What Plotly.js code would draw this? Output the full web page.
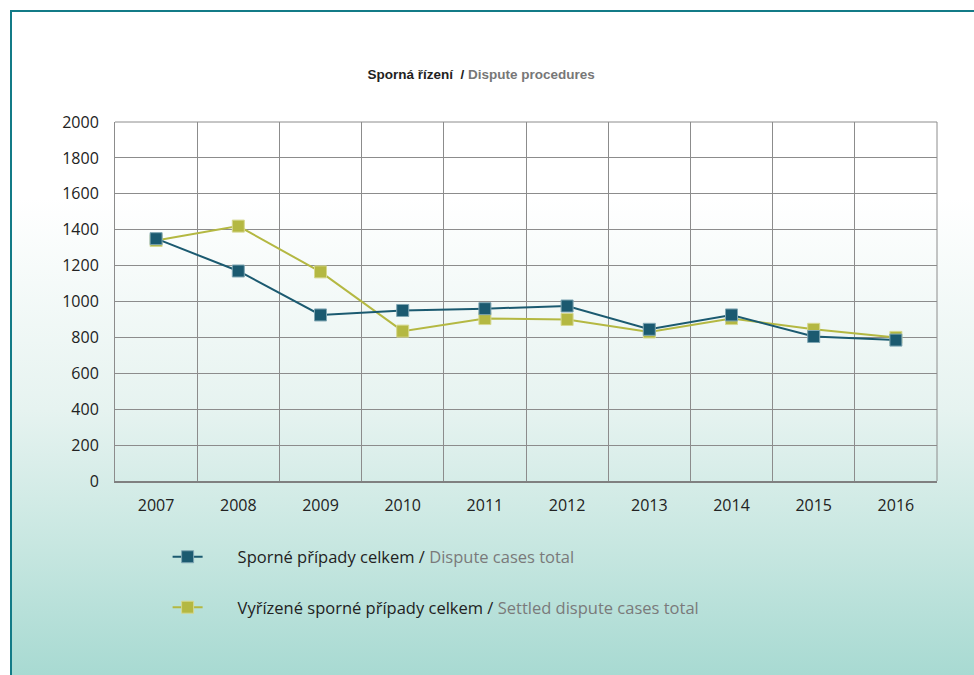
<!DOCTYPE html>
<html>
<head>
<meta charset="utf-8">
<script src="https://cdn.plot.ly/plotly-3.0.1.min.js"></script>
<style>
  html, body { margin:0; padding:0; background:#ffffff; width:974px; height:675px; overflow:hidden; }
  #frame { position:absolute; left:10px; top:10px; width:962px; height:663px;
    border-left:2px solid #137b87; border-top:2px solid #137b87;
    background: linear-gradient(to bottom, #ffffff 0%, #ffffff 28%, #e6f3f0 60%, #c8e7e1 80%, #a8dad2 100%); }
  #chart { position:absolute; left:0; top:0; width:974px; height:675px; }
</style>
</head>
<body>
<div id="frame"></div>
<div id="chart"></div>
<script>
const years = ['2007','2008','2009','2010','2011','2012','2013','2014','2015','2016'];
const disputeTotal = [1350, 1170, 925, 950, 960, 975, 845, 925, 805, 785];
const settledTotal = [1340, 1420, 1165, 835, 905, 900, 830, 905, 845, 800];
const yTicks = [0, 200, 400, 600, 800, 1000, 1200, 1400, 1600, 1800, 2000];

const font = '"Open Sans", "Noto Sans", sans-serif';
const narrow = '"Liberation Sans Narrow", "Liberation Sans", Arial, sans-serif';
const pad = '&#160;&#160;&#160;&#160;&#160;&#160;&#160;';

const traces = [
  {
    x: years, y: disputeTotal, type: 'scatter', mode: 'lines+markers',
    name: pad + 'Sporné případy celkem / <span style="color:#7a7a7a">Dispute cases total</span>',
    legendgroup: 'a', legendrank: 1,
    line: {color: '#1b5a70', width: 2},
    marker: {symbol: 'square', size: 12, color: '#1b5a70', line: {color: '#7fa6b3', width: 1}}
  },
  {
    x: years, y: settledTotal, type: 'scatter', mode: 'lines+markers',
    name: pad + 'Vyřízené sporné případy celkem / <span style="color:#7a7a7a">Settled dispute cases total</span>',
    legendgroup: 'b', legendrank: 2,
    line: {color: '#b4b842', width: 2},
    marker: {symbol: 'square', size: 12, color: '#b4b842', line: {color: '#d6d88f', width: 1}}
  }
];
// draw dispute series on top
const data = [traces[1], traces[0]];

const layout = {
  width: 974, height: 675,
  paper_bgcolor: 'rgba(0,0,0,0)', plot_bgcolor: 'rgba(0,0,0,0)',
  margin: {l: 115, r: 37, t: 122, b: 194},
  title: {
    text: '<b>Sporná řízení  /</b> <b><span style="color:#777777">Dispute procedures</span></b>',
    font: {family: narrow, size: 13.5, color: '#222222'},
    x: 0.494, xanchor: 'center', xref: 'container',
    y: 1 - 74/675, yref: 'container', yanchor: 'middle'
  },
  xaxis: {
    type: 'category', categoryarray: years, tickson: 'boundaries',
    range: [-0.5, years.length - 0.5],
    showgrid: true, gridcolor: '#8c8c8c', gridwidth: 1,
    showline: true, linecolor: '#808080', linewidth: 2, mirror: false,
    ticks: '', ticklabelstandoff: 9,
    tickfont: {family: font, size: 16, color: '#222222'},
    zeroline: false, fixedrange: true
  },
  yaxis: {
    range: [0, 2000], tickvals: yTicks, ticktext: yTicks.map(String),
    showgrid: true, gridcolor: '#8c8c8c', gridwidth: 1,
    showline: true, linecolor: '#8c8c8c', linewidth: 1,
    ticks: '', ticklabelstandoff: 12,
    tickfont: {family: font, size: 16, color: '#222222'},
    zeroline: false, fixedrange: true
  },
  shapes: [
    {type: 'line', xref: 'paper', yref: 'paper', x0: 1, x1: 1, y0: 0, y1: 1, line: {color: '#8c8c8c', width: 1}},
    {type: 'line', xref: 'paper', yref: 'paper', x0: 0, x1: 1, y0: 1, y1: 1, line: {color: '#8c8c8c', width: 1}}
  ],
  showlegend: true,
  legend: {
    x: 0.064, xanchor: 'left', y: -0.163, yanchor: 'top',
    orientation: 'v', traceorder: 'grouped', tracegroupgap: 26,
    bgcolor: 'rgba(0,0,0,0)',
    font: {family: font, size: 16.5, color: '#222222'}
  }
};

Plotly.newPlot('chart', data, layout, {displayModeBar: false, staticPlot: true});
</script>
</body>
</html>
